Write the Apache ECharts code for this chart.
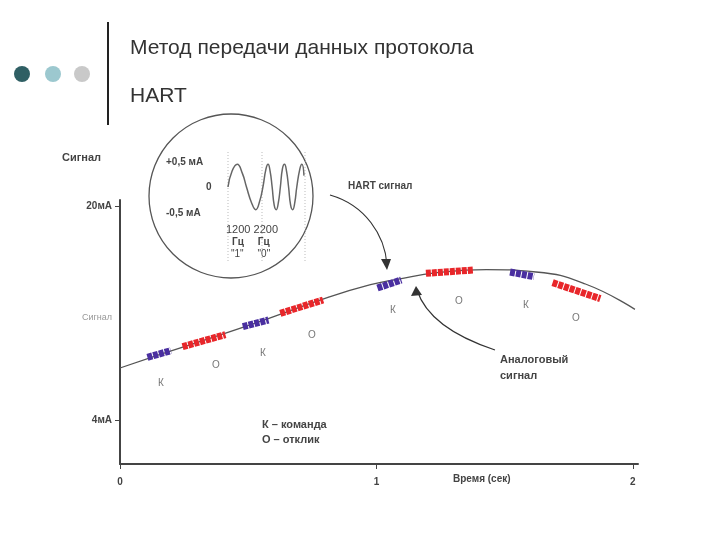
<!DOCTYPE html>
<html><head><meta charset="utf-8">
<script src="https://cdn.jsdelivr.net/npm/echarts@6/dist/echarts.min.js"></script>
<style>html,body{margin:0;background:#fff}#c{width:720px;height:540px}</style>
</head><body><div id="c"></div>
<script>
const analog = [[0,7.9],[0.154,8.9],[0.502,11.1],[0.811,13.2],[0.977,14.15],[1.081,14.55],[1.236,15.05],[1.429,15.28],[1.622,15.1],[1.815,14.2],[2.008,12.3]];
const cmdSegs = [[[0.107,8.7],[0.198,9.2]],[[0.479,11.0],[0.579,11.5]],[[1.004,13.9],[1.097,14.5]],[[1.521,15.1],[1.614,14.75]]];
const respSegs = [[[0.244,9.5],[0.411,10.4]],[[0.625,12.0],[0.792,13.0]],[[1.193,15.0],[1.378,15.25]],[[1.687,14.3],[1.873,13.1]]];
const segLabels = [['К',158,378],['О',212,360],['К',260,348],['О',308,330],['К',390,305],['О',455,296],['К',523,300],['О',572,313]];
const wave = [[0,0],[4,0.35],[9,0.5],[14,0.3],[18,0],[23,-0.35],[27,-0.5],[31,-0.3],[34,0],[37,0.4],[39,0.5],[41,0.35],[43,0],[45,-0.4],[47,-0.5],[49,-0.35],[51,0],[53,0.4],[55,0.5],[57,0.35],[59,0],[61,-0.4],[63,-0.5],[65,-0.35],[67,0],[70,0.4],[72,0.5],[74,0.25]];
const yTicks = [4, 11.7, 20];
const xTicks = [0, 1, 2];

const chart = echarts.init(document.getElementById('c'));
const series = [{type:'line',data:analog,smooth:true,symbol:'none',lineStyle:{color:'#555',width:1.3},xAxisIndex:0,yAxisIndex:0,z:2}];
cmdSegs.forEach(s=>series.push({type:'line',data:s,symbol:'none',lineStyle:{color:'#4a2fa0',width:7,type:[5,1]},z:3}));
respSegs.forEach(s=>series.push({type:'line',data:s,symbol:'none',lineStyle:{color:'#e8262a',width:7,type:[5,1]},z:3}));
series.push({type:'line',data:wave,smooth:true,symbol:'none',lineStyle:{color:'#666',width:1.5},xAxisIndex:1,yAxisIndex:1});
const T = (t,x,y,o)=>Object.assign({type:'text',x,y,style:Object.assign({text:t,fill:'#444',font:'11px "Liberation Sans"'},o||{})});
const graphics = [
  {type:'circle',shape:{cx:22,cy:74,r:8},style:{fill:'#2f5f64'}},
  {type:'circle',shape:{cx:53,cy:74,r:8},style:{fill:'#9cc8cf'}},
  {type:'circle',shape:{cx:82,cy:74,r:8},style:{fill:'#c9c9c9'}},
  {type:'line',shape:{x1:108,y1:22,x2:108,y2:125},style:{stroke:'#222',lineWidth:2}},
  T('Метод передачи данных протокола',130,38,{fill:'#333',font:'21px "Liberation Sans"'}),
  T('HART',130,86,{fill:'#333',font:'21px "Liberation Sans"'}),
  T('Сигнал',62,152,{font:'bold 11px "Liberation Sans"'}),
  {type:'circle',shape:{cx:231,cy:196,r:82},style:{fill:'none',stroke:'#555',lineWidth:1.3}},
  T('+0,5 мА',166,157,{font:'bold 10px "Liberation Sans"'}),
  T('0',206,182,{font:'bold 10px "Liberation Sans"'}),
  T('-0,5 мА',166,208,{font:'bold 10px "Liberation Sans"'}),
  T('1200 2200',226,224,{font:'11px "Liberation Sans"'}),
  T('Гц     Гц',232,237,{font:'bold 10px "Liberation Sans"'}),
  T('"1"     "0"',231,249,{font:'10px "Liberation Sans"'}),
  {type:'line',shape:{x1:228,y1:152,x2:228,y2:262},style:{stroke:'#bbb',lineDash:[1,2]}},
  {type:'line',shape:{x1:262,y1:152,x2:262,y2:262},style:{stroke:'#bbb',lineDash:[1,2]}},
  {type:'line',shape:{x1:305,y1:152,x2:305,y2:262},style:{stroke:'#bbb',lineDash:[1,2]}},
  T('HART сигнал',348,181,{font:'bold 10px "Liberation Sans"'}),
  {type:'bezierCurve',shape:{x1:330,y1:195,x2:387,y2:265,cpx1:365,cpy1:205,cpx2:385,cpy2:235},style:{stroke:'#333',lineWidth:1.2,fill:'none'}},
  {type:'polygon',shape:{points:[[381,259],[387,270],[391,259]]},style:{fill:'#333'}},
  T('Аналоговый\nсигнал',500,352,{font:'bold 11px "Liberation Sans"',lineHeight:16}),
  {type:'bezierCurve',shape:{x1:495,y1:350,x2:417,y2:290,cpx1:450,cpy1:335,cpx2:425,cpy2:315},style:{stroke:'#333',lineWidth:1.2,fill:'none'}},
  {type:'polygon',shape:{points:[[411,296],[416,286],[422,295]]},style:{fill:'#333'}},
  T('К – команда\nО – отклик',262,417,{font:'bold 11px "Liberation Sans"',lineHeight:15}),
  T('Время (сек)',453,474,{font:'bold 10px "Liberation Sans"'}),
];
segLabels.forEach(l=>graphics.push(T(l[0],l[1],l[2],{fill:'#777',font:'10px "Liberation Sans"'})));
chart.setOption({
  animation:false,
  grid:[{left:120,right:82,top:200,bottom:76},{left:228,width:77,top:162,height:50}],
  xAxis:[{type:'value',min:0,max:2.02,axisLine:{lineStyle:{color:'#444',width:2}},splitLine:{show:false},
      axisTick:{customValues:xTicks,length:5,lineStyle:{color:'#444'}},axisLabel:{customValues:xTicks,margin:13,color:'#444',fontSize:10,fontWeight:'bold'}},
    {gridIndex:1,type:'value',min:0,max:75,show:false}],
  yAxis:[{type:'value',min:0.7,max:20.5,axisLine:{show:true,lineStyle:{color:'#444',width:2}},splitLine:{show:false},
      axisTick:{show:true,customValues:[4,20],length:5,lineStyle:{color:'#444'}},
      axisLabel:{customValues:yTicks,fontSize:10,formatter:v=>v===4?'{b|4мА}':v===20?'{b|20мА}':'{g|Сигнал}',rich:{b:{color:'#444',fontWeight:'bold',fontSize:10},g:{color:'#999',fontSize:9}}}},
    {gridIndex:1,type:'value',min:-0.55,max:0.55,show:false}],
  series, graphic:graphics
});
</script></body></html>
